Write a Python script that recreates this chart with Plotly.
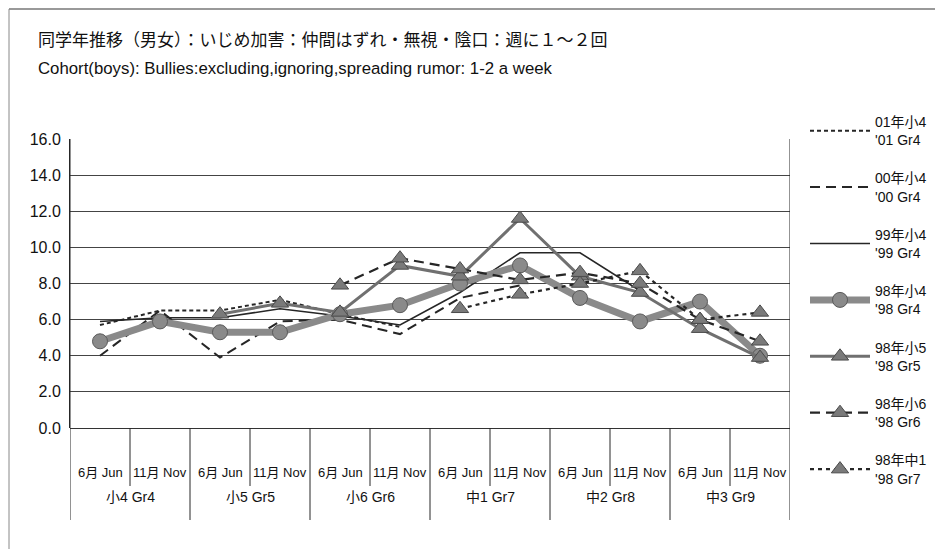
import plotly.graph_objects as go

# ---------------- data ----------------
period_labels = ["6月 Jun", "11月 Nov"] * 6
grade_labels = ["小4 Gr4", "小5 Gr5", "小6 Gr6", "中1 Gr7", "中2 Gr8", "中3 Gr9"]
y_tick_values = [0, 2, 4, 6, 8, 10, 12, 14, 16]
y_tick_text = ["0.0", "2.0", "4.0", "6.0", "8.0", "10.0", "12.0", "14.0", "16.0"]

series_names = [
    "01年小4<br>'01 Gr4",
    "00年小4<br>'00 Gr4",
    "99年小4<br>'99 Gr4",
    "98年小4<br>'98 Gr4",
    "98年小5<br>'98 Gr5",
    "98年小6<br>'98 Gr6",
    "98年中1<br>'98 Gr7",
]
# start index (0 = 小4 6月) of each cohort
series_start = [0, 0, 0, 0, 2, 4, 6]

s01_gr4 = [5.7, 6.5, 6.5, 7.1, 6.3, 5.6]
s00_gr4 = [4.0, 6.5, 3.9, 5.9, 6.0, 5.2, 7.2, 7.9]
s99_gr4 = [5.9, 6.1, 6.1, 6.6, 6.2, 5.7, 7.5, 9.7, 9.7, 7.6]
s98_gr4 = [4.8, 5.9, 5.3, 5.3, 6.3, 6.8, 8.0, 9.0, 7.2, 5.9, 7.0, 4.0]
s98_gr5 = [6.3, 6.9, 6.4, 9.0, 8.4, 11.6, 8.4, 7.5, 5.5, 3.9]
s98_gr6 = [7.9, 9.4, 8.8, 8.2, 8.6, 8.0, 6.0, 4.8]
s98_gr7 = [6.6, 7.4, 8.0, 8.7, 6.0, 6.4]

series_values = [s01_gr4, s00_gr4, s99_gr4, s98_gr4, s98_gr5, s98_gr6, s98_gr7]

# ---------------- styles ----------------
FONT = "Liberation Sans, Arial, Noto Sans CJK JP, sans-serif"
DARK = "#262626"
GRAY = "#8a8a8a"
TRI = dict(symbol="triangle-up", size=15, color="#7a7a7a", line=dict(color="#4a4a4a", width=1))

styles = [
    dict(line=dict(color=DARK, width=2.0, dash="4px,3px"), marker=None),
    dict(line=dict(color=DARK, width=2.0, dash="10px,6px"), marker=None),
    dict(line=dict(color=DARK, width=1.6), marker=None),
    dict(line=dict(color=GRAY, width=7),
         marker=dict(symbol="circle", size=15, color=GRAY, line=dict(color="#5a5a5a", width=1))),
    dict(line=dict(color="#707070", width=3), marker=TRI),
    dict(line=dict(color=DARK, width=2.2, dash="10px,6px"), marker=TRI),
    dict(line=dict(color=DARK, width=2.2, dash="4px,4px"), marker=TRI),
]

fig = go.Figure()
for name, vals, start, st in zip(series_names, series_values, series_start, styles):
    xs = list(range(start, start + len(vals)))
    fig.add_trace(go.Scatter(
        x=xs, y=vals, name=name, legendgroup=name,
        mode="lines+markers" if st["marker"] else "lines",
        line=st["line"], marker=st["marker"],
        hoverinfo="skip",
    ))

# ---------------- layout geometry (page has an 8px body margin) ----------------
OFF = 8
W, H = 943 - OFF, 550 - OFF
PLOT_L, PLOT_R, PLOT_T, PLOT_B = 70, 790, 139, 428   # reference pixels
ML, MR = PLOT_L - OFF, W - (PLOT_R - OFF)
MT, MB = PLOT_T - OFF, H - (PLOT_B - OFF)
PH = PLOT_B - PLOT_T
PW = PLOT_R - PLOT_L


def py(p):  # reference pixel y -> paper y
    return (PLOT_B - p) / PH


def px_(p):  # reference pixel x -> paper x
    return (p - PLOT_L) / PW


shapes = []
n = len(period_labels)
for i in range(n - 1):
    long = (i % 2 == 1)
    shapes.append(dict(type="line", xref="x", yref="paper", x0=i + 0.5, x1=i + 0.5,
                       y0=0, y1=py(520) if long else py(486),
                       line=dict(color=DARK, width=1)))
for xb in (-0.5, n - 0.5):
    shapes.append(dict(type="line", xref="x", yref="paper", x0=xb, x1=xb,
                       y0=1, y1=py(520), line=dict(color=DARK, width=1)))
# outer frame (top and left edges)
shapes.append(dict(type="line", xref="paper", yref="paper", x0=px_(9), x1=px_(943),
                   y0=py(9), y1=py(9), line=dict(color="#777", width=1.5)))
shapes.append(dict(type="line", xref="paper", yref="paper", x0=px_(9), x1=px_(9),
                   y0=py(9), y1=py(549), line=dict(color="#888", width=1)))

annotations = []
for i, lab in enumerate(period_labels):
    annotations.append(dict(x=i, y=py(472), xref="x", yref="paper", text=lab,
                            showarrow=False, font=dict(size=13, color="#111", family=FONT),
                            xanchor="center", yanchor="middle"))
for g, lab in enumerate(grade_labels):
    annotations.append(dict(x=2 * g + 0.5, y=py(497), xref="x", yref="paper", text=lab,
                            showarrow=False, font=dict(size=14, color="#111", family=FONT),
                            xanchor="center", yanchor="middle"))
annotations.append(dict(x=px_(36), y=py(41), xref="paper", yref="paper",
                        text="同学年推移（男女）：いじめ加害：仲間はずれ・無視・陰口：週に１～２回",
                        showarrow=False, xanchor="left", yanchor="middle",
                        font=dict(size=17, color="#111", family=FONT)))
annotations.append(dict(x=px_(36), y=py(68), xref="paper", yref="paper",
                        text="Cohort(boys): Bullies:excluding,ignoring,spreading rumor: 1-2 a week",
                        showarrow=False, xanchor="left", yanchor="middle",
                        font=dict(size=16.8, color="#111", family=FONT)))

fig.update_layout(
    width=W, height=H,
    margin=dict(l=ML, r=MR, t=MT, b=MB, autoexpand=False),
    paper_bgcolor="white", plot_bgcolor="white",
    font=dict(family=FONT, color="#111"),
    xaxis=dict(range=[-0.5, n - 0.5], showticklabels=False, showgrid=False,
               zeroline=False, showline=False, fixedrange=True),
    yaxis=dict(range=[0, 16], tickvals=y_tick_values, ticktext=y_tick_text,
               showgrid=True, gridcolor="#444", gridwidth=1,
               zeroline=True, zerolinecolor="#333", zerolinewidth=1,
               showline=True, linecolor=DARK, linewidth=1,
               ticklabelstandoff=5,
               tickfont=dict(size=16, color="#111", family=FONT), fixedrange=True),
    showlegend=True,
    legend=dict(x=px_(805), y=py(106), yref="paper", maxheight=470,
                xanchor="left", yanchor="top",
                font=dict(size=14, color="#111", family=FONT),
                tracegroupgap=17, itemwidth=60, bgcolor="rgba(0,0,0,0)"),
    shapes=shapes,
    annotations=annotations,
)

fig.write_html("out.html")
